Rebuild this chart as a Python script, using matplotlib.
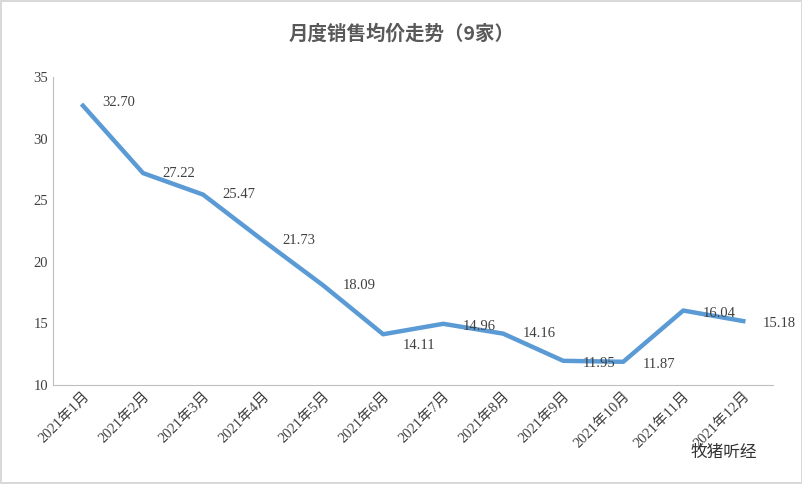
import matplotlib.pyplot as plt
from matplotlib import font_manager

cjk = 'Noto Sans CJK SC'
names = {f.name for f in font_manager.fontManager.ttflist}
for cand in ['Noto Sans CJK SC', 'Noto Sans CJK JP', 'Noto Sans CJK TC', 'Noto Sans CJK KR']:
    if cand in names:
        cjk = cand
        break
plt.rcParams['font.family'] = ['Liberation Serif', cjk]

months = ['2021年1月', '2021年2月', '2021年3月', '2021年4月', '2021年5月', '2021年6月',
          '2021年7月', '2021年8月', '2021年9月', '2021年10月', '2021年11月', '2021年12月']
prices = [32.70, 27.22, 25.47, 21.73, 18.09, 14.11, 14.96, 14.16, 11.95, 11.87, 16.04, 15.18]
# label offsets in points (dx, dy)
offsets = [(14, 2), (14, 0), (14, 0), (14, 0), (14, 0), (14, -8), (14, -2), (14, 0), (14, -2), (14, -2), (14, -2), (14, -2)]

fig = plt.figure(figsize=(8.03, 4.84), dpi=100)
fig.patch.set_edgecolor('#d9d9d9')
fig.patch.set_linewidth(1.5)
ax = fig.add_axes([0.066, 0.205, 0.897, 0.635])

x = range(len(months))
ax.plot(x, prices, color='#5b9bd5', linewidth=3.2, solid_joinstyle='round')
for i, v in enumerate(prices):
    ax.annotate(f'{v:.2f}', (i, v), xytext=offsets[i], textcoords='offset points',
                fontsize=10.5, color='#404040', va='center', ha='left')

ax.set_ylim(10, 35)
ax.set_yticks(range(10, 36, 5))
ax.set_xlim(-0.5, len(months) - 0.5)
ax.set_xticks(list(x))
ax.set_xticklabels(months, rotation=45, ha='right', rotation_mode='anchor', fontsize=10.5, color='#404040')
ax.tick_params(axis='y', labelsize=10.5, colors='#404040', length=0)
ax.tick_params(axis='x', length=0)
for s in ['top', 'right']:
    ax.spines[s].set_visible(False)
ax.spines['left'].set_color('#bfbfbf')
ax.spines['bottom'].set_color('#bfbfbf')

fig.text(0.5, 0.93, '月度销售均价走势（9家）', ha='center', va='center', fontsize=14,
         fontweight='bold', color='#595959', family=cjk)
fig.text(0.86, 0.065, '牧猪听经', ha='left', va='center', fontsize=12,
         color='#333333', family=cjk)

fig.savefig('out.png', dpi=100)
